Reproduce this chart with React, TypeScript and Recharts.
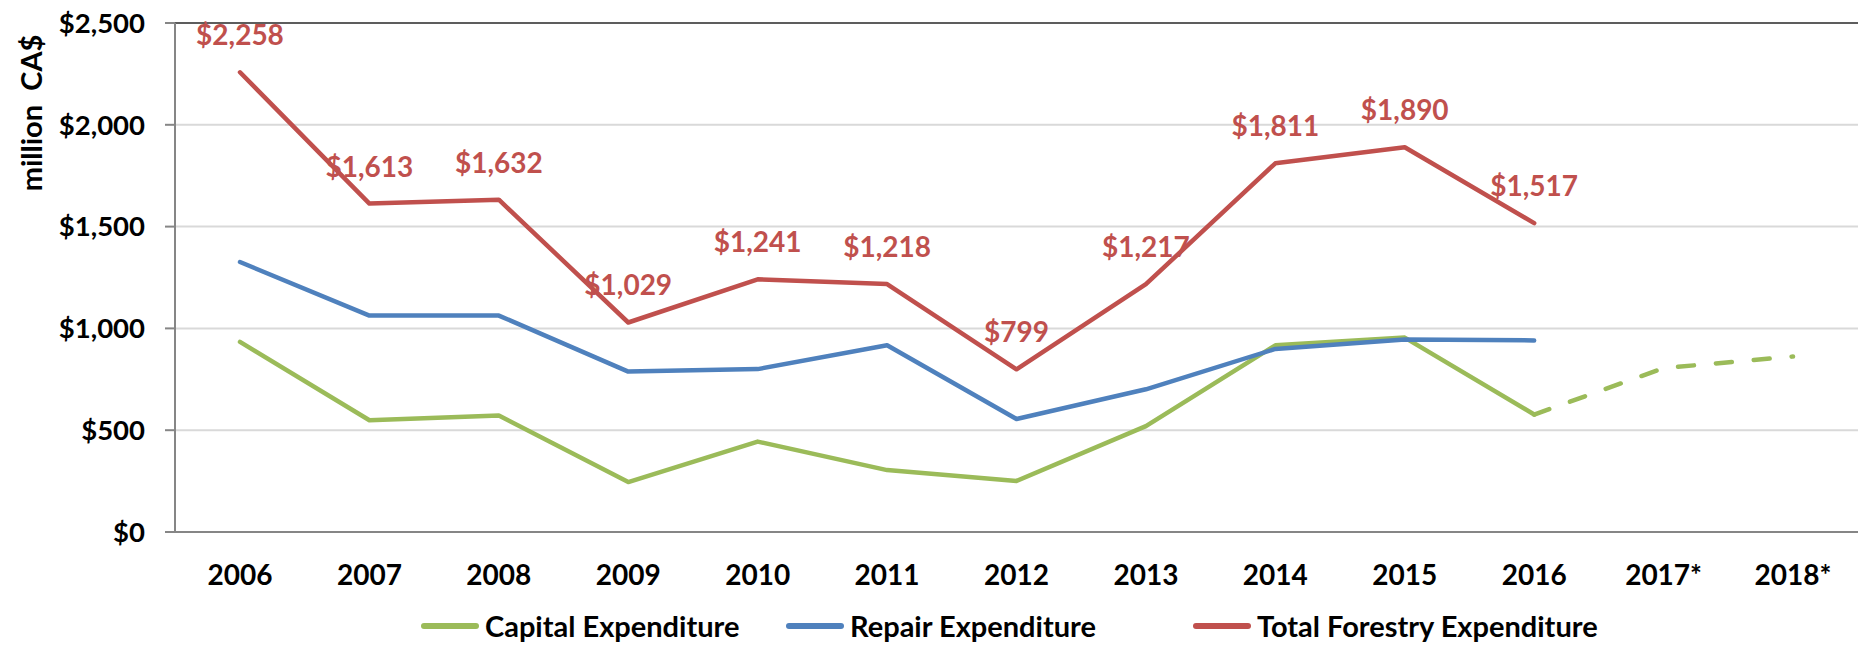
import React from "react";
import {
  CartesianGrid, Line, LineChart, LabelList, ReferenceLine, XAxis, YAxis,
} from "recharts";

const years = ["2006", "2007", "2008", "2009", "2010", "2011", "2012", "2013", "2014", "2015", "2016", "2017*", "2018*"];
const capital = [934, 549, 572, 245, 444, 304, 251, 520, 917, 955, 577, null, null];
const capitalForecast = [null, null, null, null, null, null, null, null, null, null, 577, 805, 862];
const repair = [1326, 1063, 1063, 788, 800, 917, 555, 701, 899, 946, 941, null, null];
const total = [2258, 1613, 1632, 1029, 1241, 1218, 799, 1217, 1811, 1890, 1517, null, null];
const yTicks = [0, 500, 1000, 1500, 2000, 2500];

const GREEN = "#9bbb59";
const BLUE = "#4f81bd";
const RED = "#c0504d";
const FONT = "Lato, 'Open Sans', sans-serif";

// legend entries, with the left edge of each entry
const series = [
  { key: "capital", name: "Capital Expenditure", color: GREEN, left: 421 },
  { key: "repair", name: "Repair Expenditure", color: BLUE, left: 786 },
  { key: "total", name: "Total Forestry Expenditure", color: RED, left: 1193 },
];

const data = years.map((year, i) => ({
  year,
  capital: capital[i],
  capitalForecast: capitalForecast[i],
  repair: repair[i],
  total: total[i],
}));

const money = (v: number) => "$" + v.toLocaleString("en-US");

function XTick({ x, y, payload }: any) {
  return (
    <text x={x} y={y + 42} textAnchor="middle" dominantBaseline="central"
      fontFamily={FONT} fontWeight={700} fontSize={28} fill="#000">
      {payload.value}
    </text>
  );
}

function AxisTitle({ viewBox }: any) {
  const x = (viewBox?.x ?? 0) + 30;
  const y = 113;
  return (
    <text x={x} y={y} transform={`rotate(-90, ${x}, ${y})`} textAnchor="middle"
      dominantBaseline="central" fontFamily={FONT} fontWeight={700} fontSize={29}
      fill="#000" style={{ whiteSpace: "pre" }}>
      million  CA$
    </text>
  );
}

function TotalLabel({ x, y, value }: any) {
  if (value == null) return null;
  return (
    <text x={x} y={y - 38} textAnchor="middle" dominantBaseline="central"
      fontFamily={FONT} fontWeight={700} fontSize={28} fill={RED}>
      {money(value)}
    </text>
  );
}

export default function App() {
  return (
    <div style={{ position: "absolute", left: 0, top: 0, width: 1862, height: 646, background: "#fff", fontFamily: FONT }}>
      <LineChart width={1862} height={646} data={data} margin={{ top: 23, right: 4, bottom: 0, left: 0 }}>
        <CartesianGrid vertical={false} stroke="#d9d9d9" strokeWidth={2} yAxisId="v" />
        <XAxis
          dataKey="year" height={114} tickSize={0} tickMargin={0} tick={<XTick />}
          axisLine={{ stroke: "#868686", strokeWidth: 2 }} tickLine={false}
          padding={{ left: 65, right: 65 }} interval={0}
        />
        <YAxis
          yAxisId="v" width={175} domain={[0, 2500]} ticks={yTicks} interval={0}
          tickFormatter={money} tickSize={10} tickMargin={20}
          tick={{ fill: "#000", fontFamily: FONT, fontWeight: 700, fontSize: 27.5 }}
          axisLine={{ stroke: "#868686", strokeWidth: 2 }}
          tickLine={{ stroke: "#868686", strokeWidth: 2 }}
          label={{ content: <AxisTitle /> }}
        />
        <YAxis
          yAxisId="r" orientation="right" width={0} domain={[0, 2500]} tick={false}
          tickLine={false} axisLine={{ stroke: "#333", strokeWidth: 2 }}
        />
        <ReferenceLine yAxisId="v" y={2500} stroke="#333" strokeWidth={1.5} />
        <Line yAxisId="v" dataKey="capital" stroke={GREEN} strokeWidth={4.5} dot={false}
          isAnimationActive={false} strokeLinejoin="round" strokeLinecap="round" />
        <Line yAxisId="v" dataKey="capitalForecast" stroke={GREEN} strokeWidth={4.5} dot={false}
          strokeDasharray="16 22" strokeLinecap="round" isAnimationActive={false} />
        <Line yAxisId="v" dataKey="repair" stroke={BLUE} strokeWidth={4.5} dot={false}
          isAnimationActive={false} strokeLinejoin="round" strokeLinecap="round" />
        <Line yAxisId="v" dataKey="total" stroke={RED} strokeWidth={4.5} dot={false}
          isAnimationActive={false} strokeLinejoin="round" strokeLinecap="round">
          <LabelList dataKey="total" content={<TotalLabel />} />
        </Line>
      </LineChart>
      {series.map((s) => (
        <div key={s.key} style={{ position: "absolute", top: 607, left: s.left, display: "flex", alignItems: "center" }}>
          <div style={{ width: 58, height: 6, borderRadius: 3, background: s.color, marginRight: 6 }} />
          <span style={{ fontSize: 29, fontWeight: 700, color: "#000", lineHeight: "38px", whiteSpace: "nowrap" }}>{s.name}</span>
        </div>
      ))}
    </div>
  );
}
